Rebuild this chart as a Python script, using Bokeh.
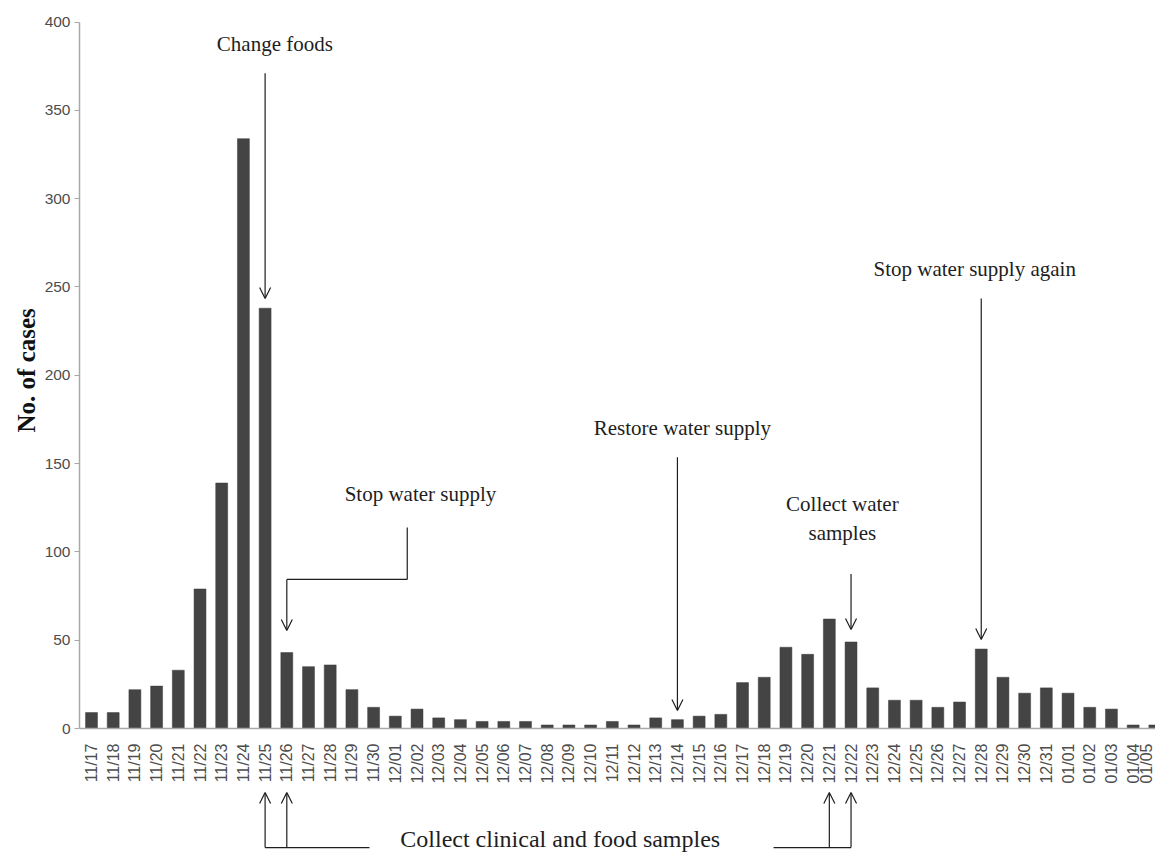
import math
from bokeh.plotting import figure
from bokeh.models import Range1d, FixedTicker, Arrow, OpenHead, Label, Title
from bokeh.embed import file_html
from bokeh.resources import INLINE

# ---------------- data ----------------
dates = ["11/17", "11/18", "11/19", "11/20", "11/21", "11/22", "11/23", "11/24",
         "11/25", "11/26", "11/27", "11/28", "11/29", "11/30",
         "12/01", "12/02", "12/03", "12/04", "12/05", "12/06", "12/07", "12/08",
         "12/09", "12/10", "12/11", "12/12", "12/13", "12/14", "12/15", "12/16",
         "12/17", "12/18", "12/19", "12/20", "12/21", "12/22", "12/23", "12/24",
         "12/25", "12/26", "12/27", "12/28", "12/29", "12/30", "12/31",
         "01/01", "01/02", "01/03", "01/04", "01/05"]
cases = [9, 9, 22, 24, 33, 79, 139, 334, 238, 43, 35, 36, 22, 12,
         7, 11, 6, 5, 4, 4, 4, 2, 2, 2, 4, 2, 6, 5, 7, 8,
         26, 29, 46, 42, 62, 49, 23, 16, 16, 12, 15, 45, 29, 20, 23,
         20, 12, 11, 2, 2]
y_ticks = [0, 50, 100, 150, 200, 250, 300, 350, 400]

idx = list(range(len(dates)))
pos = {d: i for i, d in enumerate(dates)}

# ---------------- figure ----------------
W, H = 1155, 853
LEFT = 79
p = figure(width=W, height=H, output_backend="svg", toolbar_location=None,
           x_range=Range1d(-0.553, 49.03), y_range=Range1d(-70.78, 412.23),
           min_border_left=LEFT, min_border_right=0, min_border_top=0,
           min_border_bottom=0, background_fill_color="white",
           border_fill_color="white", outline_line_color=None)
p.grid.visible = False

p.vbar(x=idx, top=cases, width=0.55, fill_color="#444444",
       line_color="#3c3c3c", line_width=0.5)

tick_font = "Liberation Sans"
tick_color = "#4d4d4d"
axis_color = "#a8a8a8"

# y axis
ya = p.yaxis[0]
ya.ticker = FixedTicker(ticks=y_ticks)
ya.bounds = (0, 400)
ya.axis_line_color = axis_color
ya.axis_line_width = 1.5
ya.major_tick_line_color = axis_color
ya.major_tick_in = 0
ya.major_tick_out = 5
ya.minor_tick_line_color = None
ya.major_label_text_font = tick_font
ya.major_label_text_font_size = "15.5px"
ya.major_label_text_color = tick_color
ya.major_label_standoff = 4

# x axis drawn at y = 0
xa = p.xaxis[0]
xa.fixed_location = 0
xa.ticker = FixedTicker(ticks=idx)
xa.major_label_overrides = {i: d for i, d in enumerate(dates)}
xa.major_label_orientation = math.pi / 2
xa.axis_line_color = axis_color
xa.axis_line_width = 1.5
xa.major_tick_line_color = None
xa.minor_tick_line_color = None
xa.major_label_text_font = tick_font
xa.major_label_text_font_size = "16px"
xa.major_label_text_color = tick_color
xa.major_label_standoff = 9

p.add_layout(Title(text="No. of cases", align="left", offset=421,
                   text_font="Liberation Serif", text_font_style="bold",
                   text_font_size="25px", text_color="#111111", standoff=4),
             "left")

# ---------------- annotations ----------------
ink = "#1e1e1e"
serif = "Liberation Serif"


def seg(x0, y0, x1, y1, head=True):
    p.add_layout(Arrow(x_start=x0, y_start=y0, x_end=x1, y_end=y1,
                       line_color=ink, line_width=1.2,
                       end=OpenHead(size=11, line_color=ink, line_width=1.2) if head else None))


def label(x, y, text, size="21px"):
    p.add_layout(Label(x=x, y=y, text=text, text_align="center",
                       text_baseline="middle", text_font=serif,
                       text_font_size=size, text_color=ink))


# Change foods -> 11/25
i = pos["11/25"]
label(8.45, 387.5, "Change foods")
seg(i, 371, i, cases[i] + 5.5)

# Stop water supply -> 11/26 (elbow)
i = pos["11/26"]
label(15.16, 133, "Stop water supply")
seg(14.55, 113.8, 14.55, 84.4, head=False)
seg(14.55, 84.4, i, 84.4, head=False)
seg(i, 84.4, i, cases[i] + 12.5)

# Restore water supply -> 12/14
i = pos["12/14"]
label(27.23, 170.4, "Restore water supply")
seg(i, 153.6, i, cases[i] + 5.2)

# Collect water samples -> 12/22
i = pos["12/22"]
label(34.6, 119, "Collect water\nsamples")
seg(i, 87.5, i, cases[i] + 7)

# Stop water supply again -> 12/28
i = pos["12/28"]
label(40.7, 260, "Stop water supply again")
seg(i, 243.5, i, cases[i] + 5.4)

# Collect clinical and food samples (bottom brackets)
yb, yt = -67.4, -36.2
a, b = pos["11/25"], pos["11/26"]
c, d = pos["12/21"], pos["12/22"]
for k in (a, b, c, d):
    seg(k, yb, k, yt)
seg(a, yb, 12.81, yb, head=False)
seg(31.43, yb, d, yb, head=False)
label(21.6, -62.3, "Collect clinical and food samples", size="24px")

open("out.html", "w").write(file_html(p, INLINE))
